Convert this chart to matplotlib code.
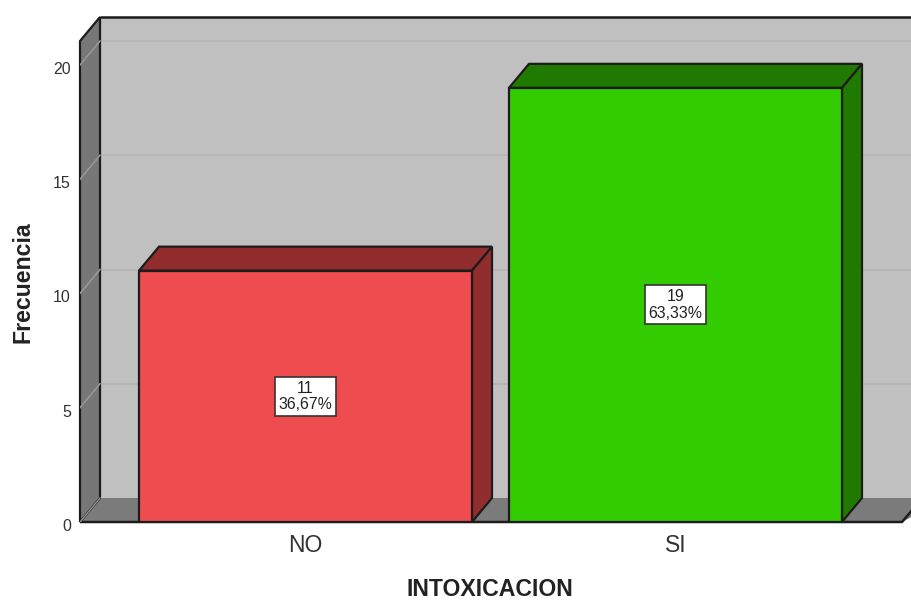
"""Bar chart of INTOXICACION frequencies, drawn with a fake 3D box look."""

import matplotlib

matplotlib.use("Agg")
import matplotlib.pyplot as plt
from matplotlib.patches import Polygon
from matplotlib.transforms import ScaledTranslation

categories = ["NO", "SI"]
counts = [11, 19]
percents = ["36,67%", "63,33%"]
bar_colors = ["#ef4c4f", "#33cc00"]
bar_shades = ["#922d2e", "#217a00"]
y_ticks = [0, 5, 10, 15, 20]

plt.rcParams["font.family"] = ["Liberation Sans", "DejaVu Sans"]

W, H = 911, 600
LEFT, BOTTOM, TOP = 80, 522, 16
PX_PER_UNIT = 22.85  # y scale
PX_PER_CAT = 370  # distance between bar centres
FIRST_CENTRE = 305.5
DX = 20 / PX_PER_CAT  # depth offset of the box
DY = 24 / PX_PER_UNIT
BAR_WIDTH = 333 / PX_PER_CAT
WALL_TOP = 21.05

fig = plt.figure(figsize=(W / 100, H / 100), dpi=100)
ax = fig.add_axes([LEFT / W, 1 - BOTTOM / H, (W - LEFT) / W, (BOTTOM - TOP) / H])
ax.set_xlim((LEFT - FIRST_CENTRE) / PX_PER_CAT, (W - FIRST_CENTRE) / PX_PER_CAT)
ax.set_ylim(0, (BOTTOM - TOP) / PX_PER_UNIT)
for spine in ax.spines.values():
    spine.set_visible(False)

x0, x1 = ax.get_xlim()
edge = "#1c1c1c"


def box(points, face, z, lw=1.6):
    ax.add_patch(
        Polygon(points, closed=True, facecolor=face, edgecolor=edge, linewidth=lw,
                zorder=z, clip_on=False, joinstyle="miter")
    )


# back wall, floor and left wall
wall_right = x1 + 0.1
ax.add_patch(Polygon([(x0 + DX, DY), (wall_right, DY), (wall_right, WALL_TOP + DY), (x0 + DX, WALL_TOP + DY)],
                     closed=True, facecolor="#c0c0c0", edgecolor="none", zorder=1))
ax.plot([x0 + DX, x1], [WALL_TOP + DY] * 2, color=edge, lw=1.8, zorder=2, clip_on=False,
        solid_capstyle="butt")
floor_end = x1 - 9 / PX_PER_CAT
ax.add_patch(Polygon([(x0, 0), (x0 + DX, DY), (wall_right, DY), (floor_end, 0)], closed=True,
                     facecolor="#7b7b7b", edgecolor="none", zorder=2))
ax.plot([x0, floor_end, floor_end + 12 / PX_PER_CAT], [0, 0, 14 / PX_PER_UNIT], color=edge, lw=1.8,
        zorder=3, clip_on=False, solid_capstyle="butt")
box([(x0, 0), (x0 + DX, DY), (x0 + DX, WALL_TOP + DY), (x0, WALL_TOP)], "#777777", 3)

# gridlines on the back wall and the left wall
for tick in y_ticks[1:]:
    ax.plot([x0 + DX, x1], [tick + DY] * 2, color="#b4b4b4", lw=1.1, zorder=1.5)
    ax.plot([x0, x0 + DX], [tick, tick + DY], color="#999999", lw=1.1, zorder=3.5)
ax.plot([x0, x0 + DX], [0, DY], color="#929292", lw=1, zorder=3.5)

# bars, each with a front, top and right face
for i, (count, pct) in enumerate(zip(counts, percents)):
    left = i - BAR_WIDTH / 2
    right = i + BAR_WIDTH / 2
    ax.bar(i, count, width=BAR_WIDTH, color=bar_colors[i], edgecolor=edge, linewidth=1.6, zorder=6)
    box([(left, count), (left + DX, count + DY), (right + DX, count + DY), (right, count)],
        bar_shades[i], 5)
    box([(right, 0), (right + DX, DY), (right + DX, count + DY), (right, count)], bar_shades[i], 5)
    ax.text(i, count / 2, f"{count}\n{pct}", ha="center", va="center", fontsize=11.4,
            linespacing=1.12, color="#222222", zorder=7,
            bbox=dict(boxstyle="square,pad=0.24", facecolor="white", edgecolor="#333333", linewidth=1.2))

ax.set_xticks(range(len(categories)))
ax.set_xticklabels(categories, fontsize=16.5, color="#333333")
ax.set_yticks(y_ticks)
ax.tick_params(axis="x", length=0, pad=9)
ax.tick_params(axis="y", length=0, pad=6.5, labelsize=11.5, labelcolor="#333333")

# y tick labels sit a little below their gridline in the reference
shift = ScaledTranslation(0, -3 / 100, fig.dpi_scale_trans)
for label in ax.get_yticklabels():
    label.set_transform(label.get_transform() + shift)

fig.text(490 / W, 1 - 590 / H, "INTOXICACION", ha="center", va="center", fontsize=16.6,
         fontweight="bold", color="#222222")
fig.text(23.5 / W, 1 - 282 / H, "Frecuencia", ha="center", va="center", rotation=90, fontsize=16.7,
         fontweight="bold", color="#222222")

fig.savefig("out.png", dpi=100)
